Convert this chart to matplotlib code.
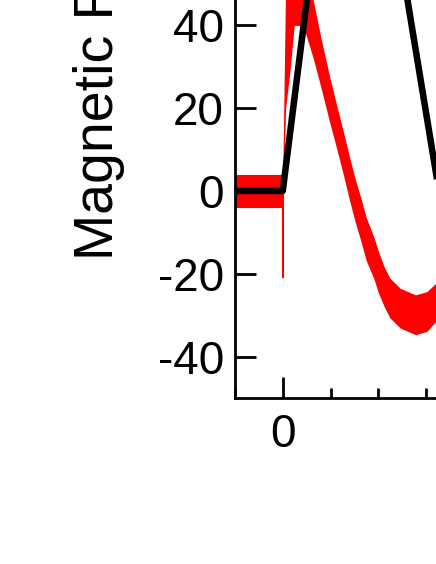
import matplotlib
matplotlib.use("Agg")
import matplotlib.pyplot as plt
from matplotlib.ticker import MultipleLocator

plt.rcParams['font.family'] = ['Liberation Sans', 'DejaVu Sans']
plt.rcParams['axes.unicode_minus'] = False

# measured signal (red band): x, centre and half-width of the noisy trace
red_x = [-5, -0.05, 0.0, 0.3, 0.8, 1.2, 1.8, 2.4, 3.2, 4.0, 4.9, 5.7, 6.5, 7.0,
         7.54, 8.17, 8.74, 9.58, 10.0, 10.6, 11.2, 12.3, 13.9, 15.1, 16.1, 18]
red_mid = [0, 0, 0, 35, 45, 52, 52, 46, 39, 31, 22.2, 15, 7.7, 2.9,
           -1.9, -6.8, -11.6, -16.4, -19.5, -23, -25.8, -28.3, -29.9, -29.1, -26.7, -22]
red_half = [4, 4, 4, 15, 15, 12, 12, 8, 7, 6, 5.5, 5.2, 5.2, 5.2,
            5.2, 5.2, 5.2, 5.0, 5.0, 4.8, 4.8, 4.8, 4.8, 4.8, 4.6, 4.6]

# single downward glitch at the trigger
spike_x = [0.0]
spike_y = [-21.0]

# model (black)
black_x = [-5, 0, 7.09, 20]
black_y = [0, 0, 129.7, -51]

y_ticks = [-40, -20, 0, 20, 40]
x_ticks = [0]

fig = plt.figure(figsize=(4.36, 5.64), dpi=100)
W, H = 436, 564
# axes placed in pixels: left spine x=235, bottom spine y=398, runs off the canvas
ax = fig.add_axes([235 / W, 1 - 398 / H, 35 * 9.55 / W, 120 * 4.14 / H])

lo = [m - h for m, h in zip(red_mid, red_half)]
hi = [m + h for m, h in zip(red_mid, red_half)]
ax.fill_between(red_x, lo, hi, color='#ff0000', lw=0, zorder=2)
ax.vlines(spike_x, 0, spike_y, color='#ff0000', lw=1.5, zorder=2)
ax.plot(black_x, black_y, color='black', lw=4.7, solid_capstyle='butt', zorder=3)

ax.set_xlim(-5, 30)
ax.set_ylim(-50, 70)
ax.set_xticks(x_ticks)
ax.xaxis.set_minor_locator(MultipleLocator(5))
ax.set_yticks(y_ticks)

for s in ax.spines.values():
    s.set_linewidth(2)
ax.tick_params(axis='both', which='major', direction='in', length=15, width=2,
               labelsize=33)
ax.tick_params(axis='x', which='minor', direction='in', length=7, width=2)
ax.tick_params(axis='x', which='major', pad=11)
ax.tick_params(axis='y', which='major', pad=8)

fig.text(113 / W, 1 - 260 / H, 'Magnetic Field (nT)', rotation=90,
         rotation_mode='anchor', ha='left', va='baseline', fontsize=40)

fig.savefig('out.png', dpi=100)
